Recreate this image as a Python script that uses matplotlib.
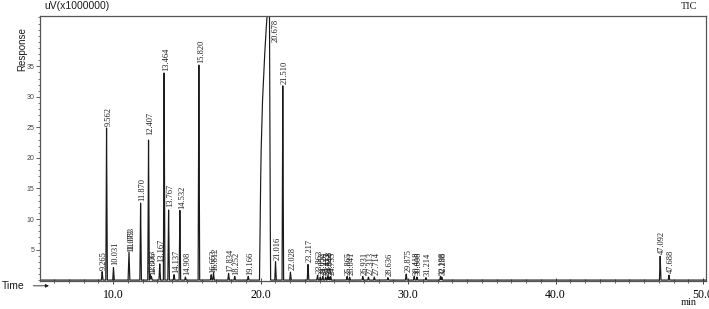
import numpy as np
import matplotlib
matplotlib.use("Agg")
import matplotlib.pyplot as plt
from matplotlib.ticker import MultipleLocator

tiempos = [9.265, 9.562, 10.031, 11.073, 11.083, 11.870, 12.407, 12.533, 12.606,
           13.167, 13.464, 13.767, 14.137, 14.532, 14.908, 15.820, 16.653, 16.812,
           17.834, 18.252, 19.166, 21.016, 21.510, 22.028, 23.217, 23.863, 24.052,
           24.220, 24.413, 24.558, 24.644, 24.755, 25.865, 26.041, 26.931, 27.313,
           27.714, 28.636, 29.875, 30.418, 30.608, 31.214, 32.198, 32.288, 47.092,
           47.688]
alturas = [1.4, 24.9, 2.1, 4.3, 4.7, 12.6, 23.4, 0.9, 0.6,
           2.7, 33.9, 11.7, 0.9, 11.4, 0.5, 35.2, 0.9, 1.2,
           1.1, 0.6, 0.6, 3.0, 31.8, 1.3, 2.6, 0.8, 0.5,
           0.6, 0.5, 0.7, 0.5, 0.6, 0.6, 0.5, 0.6, 0.5,
           0.5, 0.4, 1.0, 0.6, 0.5, 0.4, 0.6, 0.5, 3.9,
           0.8]

# Pico saturado de 20.678 min (contorno leído, se sale de la escala)
pico_grande_t = [19.93, 19.97, 20.03, 20.12, 20.24, 20.34, 20.44, 20.55, 20.60, 20.64, 20.68]
pico_grande_y = [0.0, 9.0, 20.0, 28.5, 35.0, 39.5, 43.2, 47.0, 48.0, 20.0, 0.0]
pico_grande_label = "20.678"

ancho = 0.05
t = np.arange(5.0, 50.3, 0.002)
y = np.zeros_like(t)
for tr, h in zip(tiempos, alturas):
    y = np.maximum(y, np.interp(t, [tr - ancho, tr, tr + ancho], [0, h, 0], left=0, right=0))
y = np.maximum(y, np.interp(t, pico_grande_t, pico_grande_y, left=0, right=0))

fig = plt.figure(figsize=(7.09, 3.09), dpi=100)
ax = fig.add_axes([0.0564, 0.0906, 0.9394, 0.857])
color = "#1a1a1a"
ax.plot(t, y, color=color, lw=0.85)

ax.set_xlim(5.05, 50.2)
ax.set_ylim(-0.15, 43.2)

serif = "Liberation Serif"
sans = "Liberation Sans"

# etiquetas de los picos
for tr, h in zip(tiempos, alturas):
    ax.text(tr + 0.13, h + 0.3, f"{tr:.3f}", rotation=90, ha="center", va="bottom",
            fontsize=6, family=serif, color=color)
ax.text(21.05, 42.8, pico_grande_label, rotation=90, ha="center", va="top",
        fontsize=6, family=serif, color=color)

for s in ax.spines.values():
    s.set_color("#555555")
    s.set_linewidth(0.9)

ax.xaxis.set_major_locator(MultipleLocator(10))
ax.xaxis.set_minor_locator(MultipleLocator(1))
ax.yaxis.set_major_locator(MultipleLocator(5))
ax.yaxis.set_minor_locator(MultipleLocator(1))
ax.set_yticks([5, 10, 15, 20, 25, 30, 35])
ax.set_xticks([10, 20, 30, 40, 50])
ax.set_xticklabels(["10.0", "20.0", "30.0", "40.0", "50.0"], family=serif, fontsize=8.5)
ax.set_yticklabels(["5", "10", "15", "20", "25", "30", "35"], family=sans, fontsize=5)
ax.tick_params(axis="x", which="major", direction="inout", length=5, width=0.7, color="#444444", pad=3)
ax.tick_params(axis="x", which="minor", direction="inout", length=3, width=0.6, color="#444444")
ax.tick_params(axis="y", which="major", direction="out", length=3, width=0.6, color="#444444", pad=1, labelcolor="#444444")
ax.tick_params(axis="y", which="minor", direction="out", length=1.5, width=0.5, color="#444444")

fig.text(0.062, 0.98, "uV(x1000000)", family=sans, fontsize=7.5, va="center", ha="left", color=color)
fig.text(0.983, 0.98, "TIC", family=serif, fontsize=7.5, va="center", ha="right", color=color)
fig.text(0.031, 0.84, "Response", family=sans, fontsize=7, rotation=90, va="center", ha="center", color=color)
fig.text(0.003, 0.075, "Time", family=sans, fontsize=7.5, va="center", ha="left", color=color)
fig.patches.append(matplotlib.patches.FancyArrowPatch((0.043, 0.075), (0.073, 0.075),
                   transform=fig.transFigure, arrowstyle="-|>", mutation_scale=5,
                   lw=0.6, color=color))
fig.text(0.983, 0.02, "min", family=serif, fontsize=7.5, va="center", ha="right", color=color)

fig.savefig("out.png", dpi=100)
